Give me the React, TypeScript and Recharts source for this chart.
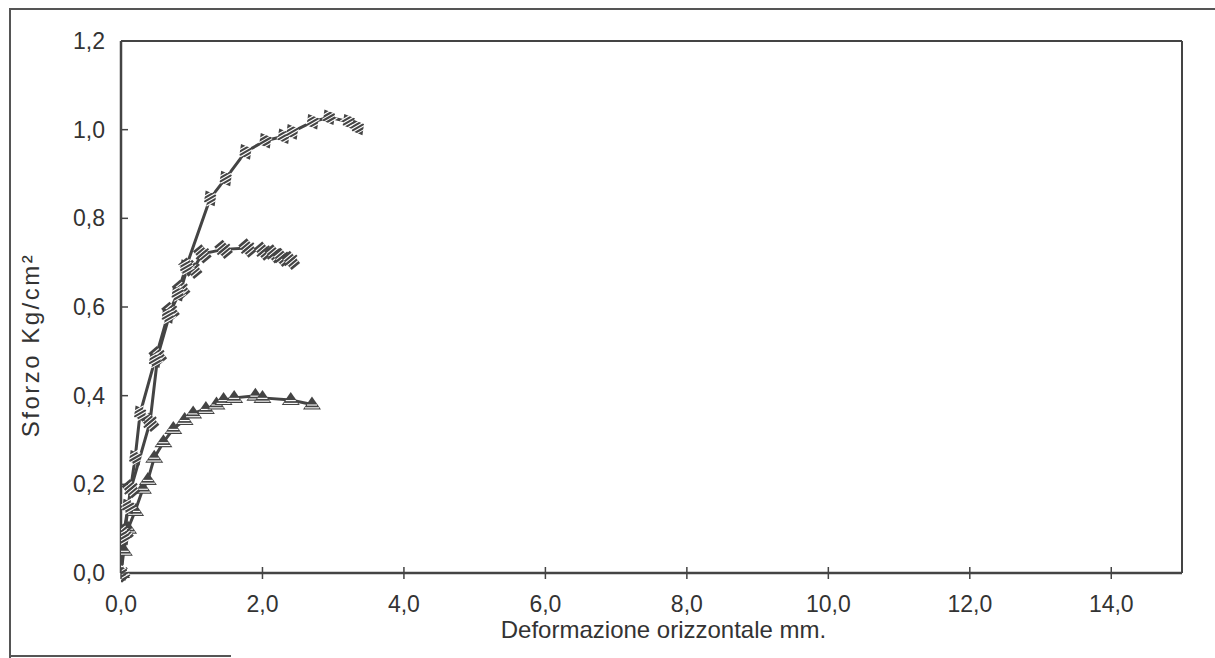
import React from "react";
import { LineChart, Line, XAxis, YAxis, ReferenceLine } from "recharts";

const xTicks = [0, 2, 4, 6, 8, 10, 12, 14];
const yTicks = [0, 0.2, 0.4, 0.6, 0.8, 1.0, 1.2];

const s1X = [0, 0.03, 0.1, 0.2, 0.27, 0.48, 0.66, 0.8, 0.92, 1.26, 1.48, 1.76, 2.04, 2.3, 2.42, 2.71, 2.94, 3.22, 3.35];
const s1Y = [0, 0.08, 0.15, 0.26, 0.36, 0.48, 0.58, 0.63, 0.69, 0.845, 0.89, 0.95, 0.975, 0.985, 0.995, 1.018, 1.028, 1.018, 1.005];

const s2X = [0, 0.05, 0.14, 0.41, 0.52, 0.7, 0.85, 0.94, 1.02, 1.15, 1.45, 1.79, 2.01, 2.16, 2.27, 2.4];
const s2Y = [0, 0.09, 0.19, 0.34, 0.49, 0.59, 0.64, 0.69, 0.685, 0.72, 0.73, 0.733, 0.726, 0.72, 0.712, 0.705];

const s3X = [0, 0.04, 0.1, 0.2, 0.31, 0.38, 0.47, 0.6, 0.74, 0.9, 1.02, 1.2, 1.35, 1.45, 1.6, 1.9, 2.0, 2.4, 2.7];
const s3Y = [0, 0.05, 0.1, 0.14, 0.19, 0.21, 0.26, 0.295, 0.325, 0.345, 0.36, 0.37, 0.38, 0.39, 0.395, 0.4, 0.395, 0.39, 0.38];

const toRows = (xs: number[], ys: number[]) => xs.map((x, i) => ({ x, y: ys[i] }));
const d1 = toRows(s1X, s1Y);
const d2 = toRows(s2X, s2Y);
const d3 = toRows(s3X, s3Y);

const INK = "#444";
const TXT = "#333";
const FONT = "'Liberation Sans', Arial, sans-serif";

const Stripes = ({ cx, cy, n, w }: any) => (
  <>
    {Array.from({ length: n }).map((_, i) => {
      const off = (i - (n - 1) / 2) * 3.2;
      return <line key={i} x1={cx - w} y1={cy + off} x2={cx + w} y2={cy + off} stroke="#fff" strokeWidth={1.1} />;
    })}
  </>
);

const Dot1 = (p: any) => {
  const { cx, cy, index } = p;
  if (cx == null || cy == null) return <g key={index} />;
  return (
    <g key={index} transform={`rotate(-30 ${cx} ${cy})`}>
      <polygon points={`${cx},${cy - 9} ${cx + 7},${cy} ${cx},${cy + 9} ${cx - 7},${cy}`} fill={INK} />
      <Stripes cx={cx} cy={cy} n={4} w={7} />
    </g>
  );
};

const Dot2 = (p: any) => {
  const { cx, cy, index } = p;
  if (cx == null || cy == null) return <g key={index} />;
  return (
    <g key={index} transform={`rotate(-40 ${cx} ${cy})`}>
      <rect x={cx - 5.5} y={cy - 8} width={11} height={16} fill={INK} />
      <Stripes cx={cx} cy={cy} n={4} w={5.5} />
      <line x1={cx - 8} y1={cy} x2={cx + 8} y2={cy} stroke={INK} strokeWidth={2} />
    </g>
  );
};

const Dot3 = (p: any) => {
  const { cx, cy, index } = p;
  if (cx == null || cy == null) return <g key={index} />;
  return (
    <g key={index}>
      <polygon points={`${cx},${cy - 8} ${cx + 9},${cy + 5} ${cx - 9},${cy + 5}`} fill={INK} />
      <line x1={cx - 5} y1={cy + 0.5} x2={cx + 5} y2={cy + 0.5} stroke="#fff" strokeWidth={1.1} />
      <line x1={cx - 7} y1={cy + 3.3} x2={cx + 7} y2={cy + 3.3} stroke="#fff" strokeWidth={1.1} />
    </g>
  );
};

const fmt = (v: number) => v.toFixed(1).replace(".", ",");

const YTick = (p: any) => {
  const { x, y, payload } = p;
  return (
    <g>
      <line x1={x + 16} y1={y} x2={x + 23} y2={y} stroke={INK} strokeWidth={1.5} />
      <text x={x} y={y} textAnchor="end" dominantBaseline="central" fontSize={23} fill={TXT} fontFamily={FONT}>
        {fmt(payload.value)}
      </text>
    </g>
  );
};

const XTick = (p: any) => {
  const { x, y, payload } = p;
  return (
    <g>
      <line x1={x} y1={y - 37} x2={x} y2={y - 25} stroke={INK} strokeWidth={1.5} />
      <text x={x} y={y} textAnchor="middle" dominantBaseline="central" fontSize={23} fill={TXT} fontFamily={FONT}>
        {fmt(payload.value)}
      </text>
    </g>
  );
};

export default function App() {
  return (
    <div style={{ position: "absolute", left: 0, top: 0, width: 1215, height: 658, background: "#fff" }}>
      <div style={{ position: "absolute", left: 9, top: 8, width: 1206, height: 648, borderLeft: "2px solid #555", borderTop: "2px solid #555" }} />
      <div style={{ position: "absolute", left: 9, top: 655, width: 222, height: 0, borderTop: "2px solid #555" }} />
      <div style={{ position: "absolute", left: 0, top: 0 }}>
        <LineChart width={1215} height={658} margin={{ top: 41, right: 33, left: 0, bottom: 0 }}>
          <XAxis
            type="number"
            dataKey="x"
            domain={[0, 15]}
            ticks={xTicks}
            tickSize={0}
            tickMargin={31}
            tick={<XTick />}
            height={85}
            axisLine={{ stroke: INK, strokeWidth: 2.5 }}
            allowDataOverflow
            label={{ value: "Deformazione orizzontale mm.", position: "insideTop", offset: 48, dx: 12, fontSize: 24, fill: TXT, fontFamily: FONT }}
          />
          <YAxis
            type="number"
            dataKey="y"
            domain={[0, 1.2]}
            ticks={yTicks}
            tickSize={0}
            tickMargin={16}
            tick={<YTick />}
            width={121}
            axisLine={{ stroke: INK, strokeWidth: 2.5 }}
            label={{ value: "Sforzo Kg/cm²", angle: -90, position: "insideLeft", offset: 30, dy: 38, fontSize: 24, letterSpacing: 2.5, fill: TXT, fontFamily: FONT, style: { textAnchor: "middle" } }}
          />
          <ReferenceLine y={1.2} stroke={INK} strokeWidth={2} />
          <ReferenceLine x={15} stroke={INK} strokeWidth={2} />
          <Line data={d3} dataKey="y" type="linear" stroke={INK} strokeWidth={3} dot={<Dot3 />} isAnimationActive={false} />
          <Line data={d2} dataKey="y" type="linear" stroke={INK} strokeWidth={3} dot={<Dot2 />} isAnimationActive={false} />
          <Line data={d1} dataKey="y" type="linear" stroke={INK} strokeWidth={3} dot={<Dot1 />} isAnimationActive={false} />
        </LineChart>
      </div>
    </div>
  );
}
